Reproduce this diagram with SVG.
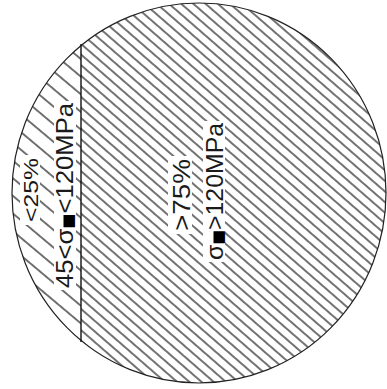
<svg xmlns="http://www.w3.org/2000/svg" width="387" height="389" viewBox="0 0 387 389">
<style>
.t{font-family:"Liberation Sans","DejaVu Sans",sans-serif;fill:#1a1a1a;text-anchor:middle}
.sq{font-family:"DejaVu Sans","Liberation Sans",sans-serif;fill:#000}
.gap{fill:#fff}
</style>
<defs>
<clipPath id="cR"><ellipse cx="199" cy="193" rx="187" ry="190"/></clipPath>
<clipPath id="cRight"><rect x="81" y="0" width="320" height="389"/></clipPath>
<clipPath id="cLeft"><rect x="0" y="0" width="81" height="389"/></clipPath>
<pattern id="hDense" patternUnits="userSpaceOnUse" width="20" height="8" patternTransform="rotate(41)">
<path d="M0,4H20" stroke="#000" stroke-width="1.1"/>
</pattern>
<pattern id="hSparse" patternUnits="userSpaceOnUse" width="20" height="13.5" patternTransform="rotate(40)">
<path d="M0,6.75H20" stroke="#000" stroke-width="1.1"/>
</pattern>
</defs>
<rect width="387" height="389" fill="#fff"/>
<g id="section" clip-path="url(#cR)">
<g id="zone-outer" clip-path="url(#cLeft)"><rect x="0" y="0" width="81" height="389" fill="url(#hSparse)"/></g>
<g id="zone-core" clip-path="url(#cRight)"><rect x="81" y="0" width="320" height="389" fill="url(#hDense)"/></g>
</g>
<g id="outline">
<ellipse cx="199" cy="193" rx="187" ry="190" fill="none" stroke="#222" stroke-width="1.2"/>
<line x1="81" y1="44" x2="81" y2="342" stroke="#111" stroke-width="1.4"/>
</g>
<g id="label-outer">
<rect class="gap" x="20" y="155" width="20" height="70"/>
<rect class="gap" x="54" y="101" width="22" height="189"/>
<text class="t" font-size="21" textLength="64" lengthAdjust="spacingAndGlyphs" transform="translate(38,190) rotate(-90)">&lt;25%</text>
<text class="t" font-size="24" textLength="185" lengthAdjust="spacingAndGlyphs" transform="translate(73,195.5) rotate(-90)">45&lt;σ<tspan class="sq" font-size="15">■</tspan>&lt;120MPa</text>
</g>
<g id="label-core">
<rect class="gap" x="168" y="156" width="24" height="78"/>
<rect class="gap" x="203" y="121" width="22" height="141"/>
<text class="t" font-size="23" textLength="72" lengthAdjust="spacingAndGlyphs" transform="translate(190,195) rotate(-90)">&gt;75%</text>
<text class="t" font-size="24" textLength="137" lengthAdjust="spacingAndGlyphs" transform="translate(223,191.5) rotate(-90)">σ<tspan class="sq" font-size="15">■</tspan>&gt;120MPa</text>
</g>
</svg>
